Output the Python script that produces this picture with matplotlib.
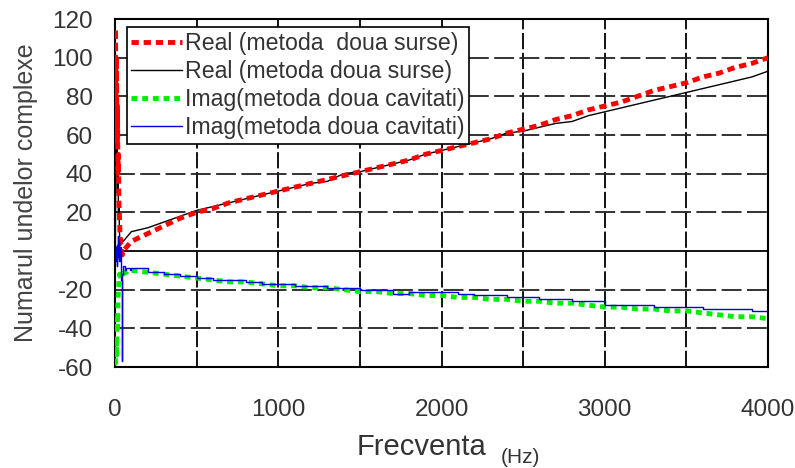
import matplotlib.pyplot as plt
import numpy as np

plt.rcParams['font.family'] = ['Liberation Sans', 'DejaVu Sans']
plt.rcParams['axes.unicode_minus'] = False

# frecvente (Hz): zona de start + pas de 100 Hz
f_lo = [0, 3, 6, 9, 12, 15, 18, 21, 24, 27, 30, 35, 40, 45, 50, 60, 70, 80, 90]
f_hi = list(range(100, 4001, 100))
freq = f_lo + f_hi

real_surse_a = [60, 115, 70, 100, 55, 75, 40, 50, 25, 18, 10, 3, 0, -2, 0, 1, 2, 3, 4,
                5, 9, 13, 17, 20, 22, 25, 27, 29, 31, 33, 35, 37, 39, 41, 43, 45, 47, 50, 52,
                54, 56, 58, 61, 63, 65, 68, 70, 73, 75, 77, 80, 83, 85, 87, 90, 92, 95, 97, 100]
real_surse_b = [-60, 20, 65, 40, 60, 30, 45, 20, 25, 10, 5, 3, 5, 6, 5, 6, 7, 8, 9,
                10, 12, 15, 18, 21, 23, 25, 27, 29, 31, 33, 35, 36, 40, 41, 43, 45, 47, 50, 52,
                54, 56, 58, 61, 62, 64, 66, 67, 70, 72, 74, 76, 78, 80, 82, 84, 86, 88, 90, 93]
imag_cav_a = [-50, -58, -45, -55, -35, -40, -25, -20, -15, -12, -13, -14, -13, -12, -12, -11, -11, -10, -10,
              -10, -11, -12, -13, -14, -15, -16, -16, -17, -18, -18, -19, -19, -20, -21, -21, -22, -22, -23, -23,
              -24, -24, -25, -25, -26, -26, -27, -27, -28, -29, -29, -30, -30, -31, -31, -32, -33, -34, -34, -35]
imag_cav_b = [0, -5, 2, -8, 3, -3, 8, 0, 5, -5, 2, -15, -57, -12, -8, -10, -9, -9, -10,
              -9, -11, -12, -13, -14, -15, -15, -16, -17, -17, -18, -18, -19, -19, -20, -20, -22, -21, -21, -21,
              -22, -23, -23, -24, -24, -25, -25, -26, -26, -28, -28, -28, -29, -29, -29, -30, -30, -30, -31, -31]

labels = ['Real (metoda  doua surse)', 'Real (metoda doua surse)',
          'Imag(metoda doua cavitati)', 'Imag(metoda doua cavitati)']

fig = plt.figure(figsize=(7.95, 4.68), dpi=100)
ax = fig.add_axes([0.1447, 0.2158, 0.8213, 0.7436])

l1, = ax.plot(freq, real_surse_a, color='#ff0000', lw=3.5, ls=(0, (1.5, 1)), zorder=4)
l2, = ax.plot(freq, real_surse_b, color='black', lw=1, zorder=3)
l3, = ax.plot(freq, imag_cav_a, color='#00ee00', lw=3.5, ls=(0, (1.2, 1)), zorder=4)
l4, = ax.plot(freq, imag_cav_b, color='#0000dd', lw=1, drawstyle='steps-post', zorder=5)

ax.set_xlim(0, 4000)
ax.set_ylim(-60, 120)
ax.set_xticks([0, 1000, 2000, 3000, 4000])
ax.set_yticks(np.arange(-60, 121, 20))

# grila
for x in np.arange(500, 4000, 500):
    ax.axvline(x, color='black', lw=1.3, ls=(0, (9, 2)), zorder=1)
for y in np.arange(-40, 120, 20):
    if y == 0:
        ax.axhline(y, color='black', lw=1.3, zorder=1)
    else:
        ax.axhline(y, color='#222222', lw=1.3, ls=(0, (11, 3)), zorder=1)

ax.tick_params(which='both', length=0, labelsize=17.5, colors='#333333')
ax.tick_params(axis='x', pad=23)
ax.tick_params(axis='y', pad=16)
for s in ax.spines.values():
    s.set_linewidth(1.5)

ax.set_ylabel('Numarul undelor complexe', fontsize=18, color='#444444', labelpad=10)
fig.text(0.449, 0.028, 'Frecventa', fontsize=21, color='#333333', ha='left')
fig.text(0.630, 0.010, '(Hz)', fontsize=15, color='#333333', ha='left')

leg = ax.legend([l1, l2, l3, l4], labels, loc='upper left', bbox_to_anchor=(0.018, 0.977),
                fontsize=16.7, frameon=True, fancybox=False, framealpha=1, edgecolor='black',
                borderpad=0.2, labelspacing=0.22, handlelength=2.2, handletextpad=0.1,
                borderaxespad=0)
leg.get_frame().set_linewidth(1.2)
for t in leg.get_texts():
    t.set_color('#333333')

fig.savefig('out.png', dpi=100)
